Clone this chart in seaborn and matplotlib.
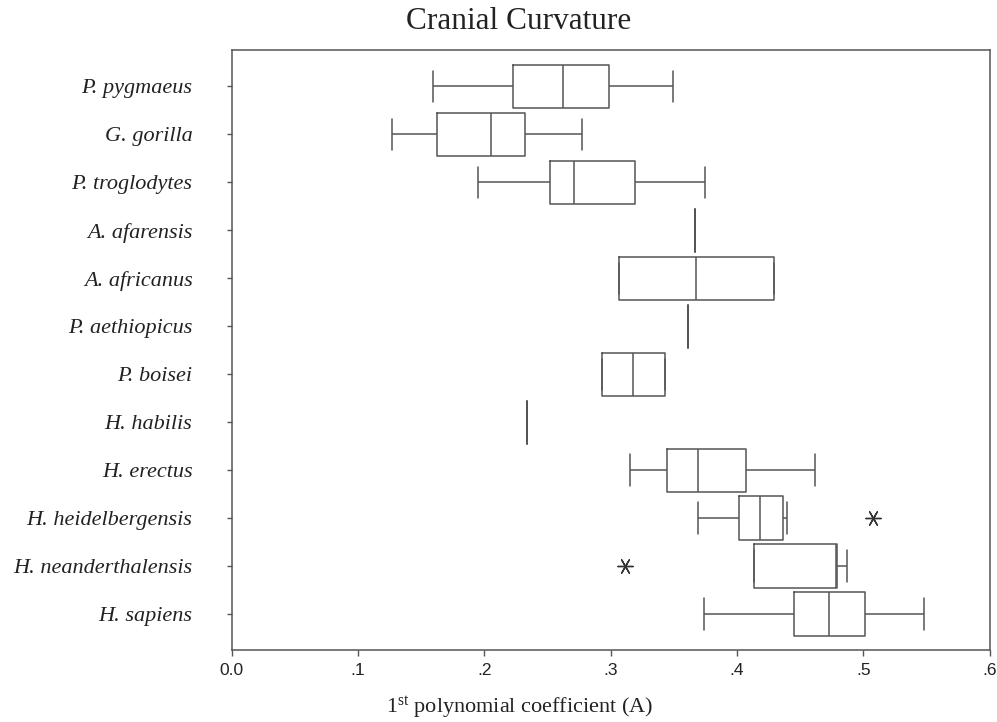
import matplotlib
matplotlib.use("Agg")
import matplotlib.pyplot as plt
import seaborn as sns
import pandas as pd

# ---- data ----
species = ["P. pygmaeus", "G. gorilla", "P. troglodytes", "A. afarensis",
           "A. africanus", "P. aethiopicus", "P. boisei", "H. habilis",
           "H. erectus", "H. heidelbergensis", "H. neanderthalensis", "H. sapiens"]
whisker_low  = [0.1595, 0.1268, 0.1954, 0.367, 0.3068, 0.3614, 0.2933, 0.2337, 0.3155, 0.3690, 0.4135, 0.3736]
q1           = [0.2226, 0.1624, 0.2519, 0.367, 0.3068, 0.3614, 0.2933, 0.2337, 0.3443, 0.4016, 0.4135, 0.4451]
median       = [0.2625, 0.2057, 0.2714, 0.367, 0.3675, 0.3614, 0.3180, 0.2337, 0.3688, 0.4185, 0.4786, 0.4726]
q3           = [0.2984, 0.2326, 0.3192, 0.367, 0.4290, 0.3614, 0.3432, 0.2337, 0.4071, 0.4361, 0.4790, 0.5016]
whisker_high = [0.3490, 0.2770, 0.3744, 0.367, 0.4290, 0.3614, 0.3432, 0.2337, 0.4620, 0.4398, 0.4871, 0.5480]
outlier_species = ["H. heidelbergensis", "H. neanderthalensis"]
outlier_values = [0.508, 0.3116]
x_ticks = [0.0, 0.1, 0.2, 0.3, 0.4, 0.5, 0.6]
x_tick_labels = ["0.0", ".1", ".2", ".3", ".4", ".5", ".6"]

# five-number summary as samples (quartiles land exactly on the given values)
rows = []
for i, sp in enumerate(species):
    for v in (whisker_low[i], q1[i], median[i], q3[i], whisker_high[i]):
        rows.append({"species": sp, "value": v})
df = pd.DataFrame(rows)
out_df = pd.DataFrame({"species": outlier_species, "value": outlier_values})

sns.set_style("white")
plt.rcParams["font.family"] = ["Liberation Serif", "DejaVu Serif"]
plt.rcParams["mathtext.fontset"] = "custom"
plt.rcParams["mathtext.rm"] = "Liberation Serif"
plt.rcParams["mathtext.it"] = "Liberation Serif:italic"

W, H = 997, 722
fig = plt.figure(figsize=(W / 100, H / 100), dpi=100)
ax = fig.add_axes([231.5 / W, 1 - 650 / H, (989.7 - 231.5) / W, (650 - 50.3) / H])

line_col = "#555555"
sns.boxplot(data=df, x="value", y="species", order=species, orient="h",
            whis=(0, 100), width=0.9, fill=False, color=line_col,
            linewidth=1.1, showfliers=False, capwidths=0.65, ax=ax)
sns.stripplot(data=out_df, x="value", y="species", order=species, orient="h",
              jitter=False, marker=(6, 2, 30), s=11, color="#333333",
              linewidth=1.0, edgecolor="#333333", ax=ax)

ax.set_xlim(0, 0.6)
ax.set_ylim(len(species) - 0.25, -0.75)
ax.set_xticks(x_ticks)
ax.set_xticklabels(x_tick_labels, family=["Liberation Sans Narrow", "Liberation Sans"], fontsize=12.5)
ax.set_yticks(range(len(species)))
ax.set_yticklabels(species, style="italic", fontsize=16, family="Liberation Serif")
ax.set_xlabel("")
ax.set_ylabel("")
for s in ax.spines.values():
    s.set_visible(True)
    s.set_color(line_col)
    s.set_linewidth(1.1)
ax.tick_params(axis="x", bottom=True, length=4.3, width=1, color=line_col, pad=5, labelcolor="#222222")
ax.tick_params(axis="y", left=True, length=3.6, width=1, color=line_col, pad=24.5, labelcolor="#222222")

fig.text(518.5 / W, 1 - 29 / H, "Cranial Curvature", ha="center", va="baseline",
         fontsize=22.5, color="#222222")
fig.text(520 / W, 1 - 713 / H, r"1$^{\mathrm{st}}$ polynomial coefficient (A)",
         ha="center", va="baseline", fontsize=16, color="#222222")

fig.savefig("out.png", dpi=100)
